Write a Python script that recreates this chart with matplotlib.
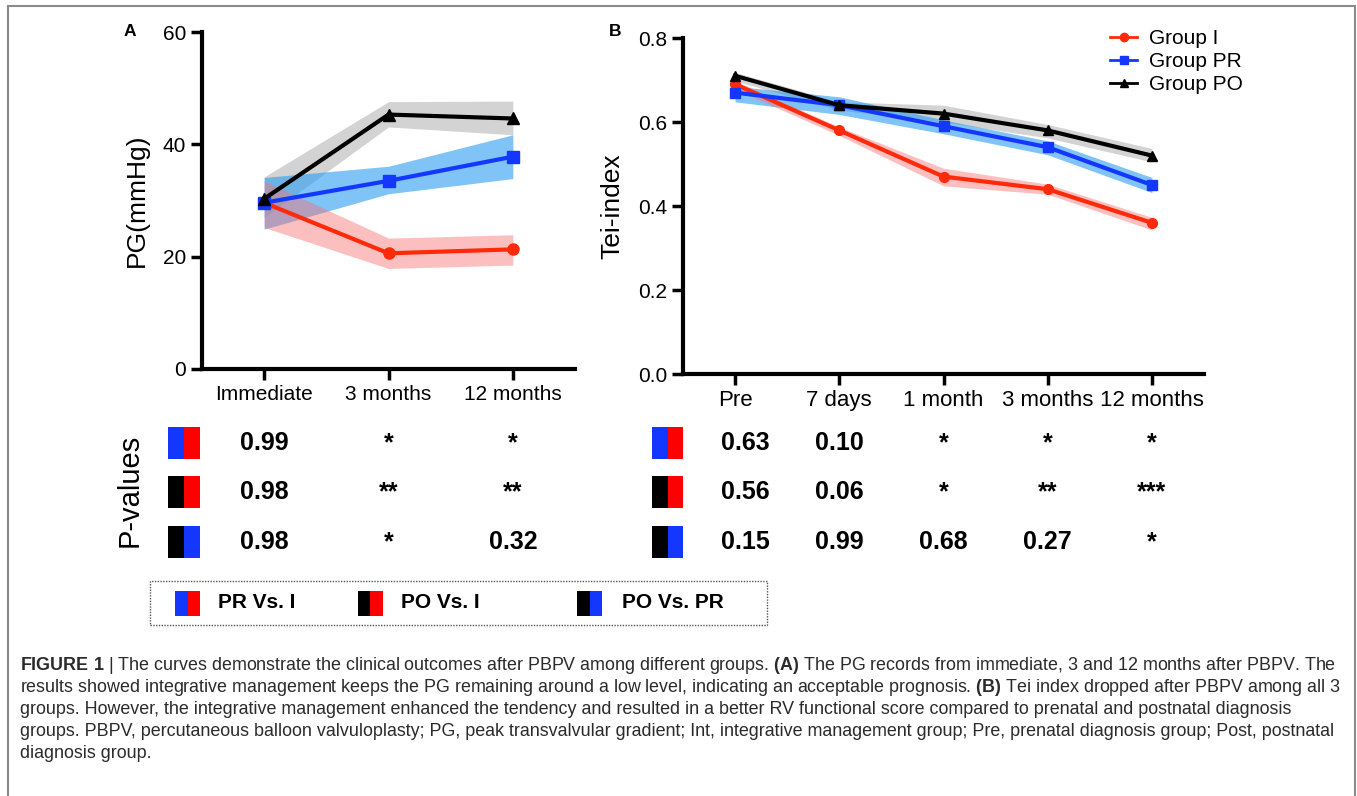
import matplotlib
matplotlib.use("Agg")
import matplotlib.pyplot as plt
import matplotlib.transforms as mtransforms
from matplotlib.patches import Rectangle
from matplotlib.lines import Line2D

plt.rcParams["font.family"] = ["Liberation Sans", "DejaVu Sans"]
plt.rcParams["mathtext.fontset"] = "custom"
plt.rcParams["mathtext.rm"] = "Liberation Sans"
plt.rcParams["mathtext.bf"] = "Liberation Sans:bold"

### données

# panel A : PG (mmHg)
pg_times = ["Immediate", "3 months", "12 months"]
pg_int = [29.6, 20.6, 21.3]
pg_int_lo = [25.2, 17.9, 18.5]
pg_int_hi = [33.5, 23.3, 23.9]
pg_pre = [29.6, 33.5, 37.8]
pg_pre_lo = [24.9, 31.2, 33.9]
pg_pre_hi = [34.1, 36.1, 41.7]
pg_post = [30.3, 45.3, 44.6]
pg_post_lo = [27.0, 43.1, 41.7]
pg_post_hi = [34.2, 47.6, 47.7]

# panel B : Tei-index
tei_times = ["Pre", "7 days", "1 month", "3 months", "12 months"]
tei_int = [0.69, 0.58, 0.47, 0.44, 0.36]
tei_int_lo = [0.678, 0.568, 0.448, 0.428, 0.343]
tei_int_hi = [0.698, 0.588, 0.490, 0.452, 0.373]
tei_pre = [0.67, 0.64, 0.59, 0.54, 0.45]
tei_pre_lo = [0.648, 0.618, 0.572, 0.522, 0.432]
tei_pre_hi = [0.685, 0.660, 0.605, 0.555, 0.468]
tei_post = [0.71, 0.64, 0.62, 0.58, 0.52]
tei_post_lo = [0.698, 0.628, 0.600, 0.562, 0.505]
tei_post_hi = [0.718, 0.648, 0.640, 0.594, 0.537]

group_names = ["Group I", "Group PR", "Group PO"]
comparisons = ["PR Vs. I", "PO Vs. I", "PO Vs. PR"]
pvals_a = [["0.99", "*", "*"],
           ["0.98", "**", "**"],
           ["0.98", "*", "0.32"]]
pvals_b = [["0.63", "0.10", "*", "*", "*"],
           ["0.56", "0.06", "*", "**", "***"],
           ["0.15", "0.99", "0.68", "0.27", "*"]]

caption = [
    r"$\mathbf{FIGURE\ 1}$ | The curves demonstrate the clinical outcomes after PBPV among different groups. $\mathbf{(A)}$ The PG records from immediate, 3 and 12 months after PBPV. The",
    r"results showed integrative management keeps the PG remaining around a low level, indicating an acceptable prognosis. $\mathbf{(B)}$ Tei index dropped after PBPV among all 3",
    "groups. However, the integrative management enhanced the tendency and resulted in a better RV functional score compared to prenatal and postnatal diagnosis",
    "groups. PBPV, percutaneous balloon valvuloplasty; PG, peak transvalvular gradient; Int, integrative management group; Pre, prenatal diagnosis group; Post, postnatal",
    "diagnosis group.",
]

### styles
RED = "#ff2a0a"
BLUE = "#1437ff"
BLACK = "#000000"
W, H = 1357, 796

fig = plt.figure(figsize=(W / 100, H / 100), dpi=100)


def fx(x):
    return x / W


def fy(y):
    return 1 - y / H


def style_axes(ax):
    for s in ["top", "right"]:
        ax.spines[s].set_visible(False)
    for s in ["left", "bottom"]:
        ax.spines[s].set_linewidth(3)
    ax.tick_params(width=2.5, length=8, direction="out")


def draw_panel(ax, x, series, ms):
    # bandes d'abord, puis les courbes (rouge, bleu, noir)
    for y, lo, hi, color, band, alpha, marker in series:
        ax.fill_between(x, lo, hi, color=band, alpha=alpha, linewidth=0)
    for y, lo, hi, color, band, alpha, marker in series[::-1]:
        ax.plot(x, y, color=color, lw=3, marker=marker, ms=ms)


### panel A
axA = fig.add_axes([fx(202), fy(369), fx(373), 337 / H])
xa = list(range(len(pg_times)))
draw_panel(axA, xa, [
    (pg_post, pg_post_lo, pg_post_hi, BLACK, "#a8a8a8", 0.5, "^"),
    (pg_pre, pg_pre_lo, pg_pre_hi, BLUE, "#2a9cf2", 0.6, "s"),
    (pg_int, pg_int_lo, pg_int_hi, RED, "#f87272", 0.45, "o"),
], 8)
axA.set_xlim(-0.5, 2.5)
axA.set_ylim(0, 60)
axA.set_yticks([0, 20, 40, 60])
axA.set_xticks(xa)
axA.set_xticklabels(pg_times, fontsize=15)
axA.tick_params(axis="y", labelsize=15)
axA.set_ylabel("PG(mmHg)", fontsize=19, labelpad=10)
style_axes(axA)

### panel B
axB = fig.add_axes([fx(683), fy(374), fx(521), 336 / H])
xb = list(range(len(tei_times)))
draw_panel(axB, xb, [
    (tei_post, tei_post_lo, tei_post_hi, BLACK, "#a8a8a8", 0.5, "^"),
    (tei_pre, tei_pre_lo, tei_pre_hi, BLUE, "#2a9cf2", 0.6, "s"),
    (tei_int, tei_int_lo, tei_int_hi, RED, "#f87272", 0.45, "o"),
], 7)
axB.set_xlim(-0.5, 4.5)
axB.set_ylim(0, 0.8)
axB.set_yticks([0, 0.2, 0.4, 0.6, 0.8])
axB.set_yticklabels([f"{v:.1f}" for v in [0, 0.2, 0.4, 0.6, 0.8]], fontsize=15)
axB.set_xticks(xb)
axB.set_xticklabels(tei_times, fontsize=16)
axB.set_ylabel("Tei-index", fontsize=19, labelpad=10)
style_axes(axB)

handles = [Line2D([], [], color=c, lw=2, marker=m, ms=6) for c, m in [(RED, "o"), (BLUE, "s"), (BLACK, "^")]]
axB.legend(handles, group_names, loc="upper left", bbox_to_anchor=(fx(1110), fy(29)),
           bbox_transform=fig.transFigure, frameon=False, fontsize=15,
           handlelength=1.3, handletextpad=0.55, labelspacing=0.2,
           borderpad=0, borderaxespad=0)

fig.text(fx(130), fy(32), "A", fontsize=12.5, weight="bold", ha="center", va="center")
fig.text(fx(615), fy(32), "B", fontsize=12.5, weight="bold", ha="center", va="center")

### tableau des p-values
swatch_colors = [(BLUE, "#ff0000"), (BLACK, "#ff0000"), (BLACK, BLUE)]
row_y = [443, 492, 542]


def swatch(x, y, w, h, colors):
    for k, c in enumerate(colors):
        fig.patches.append(Rectangle((fx(x + k * w / 2), fy(y + h / 2)), fx(w / 2), h / H,
                                     facecolor=c, edgecolor="none", transform=fig.transFigure))


fig.text(fx(130), fy(490), "P-values", rotation=90, fontsize=21, ha="center", va="center")
trA = mtransforms.blended_transform_factory(axA.transData, fig.transFigure)
trB = mtransforms.blended_transform_factory(axB.transData, fig.transFigure)
colsB = [0.1, 1.0, 2.0, 3.0, 4.0]
for i, yy in enumerate(row_y):
    swatch(168, yy, 32, 32, swatch_colors[i])
    swatch(652, yy, 31, 32, swatch_colors[i])
    for j, v in enumerate(pvals_a[i]):
        fig.text(xa[j], fy(yy), v, transform=trA, fontsize=18, weight="bold", ha="center", va="center")
    for j, v in enumerate(pvals_b[i]):
        fig.text(colsB[j], fy(yy), v, transform=trB, fontsize=18, weight="bold", ha="center", va="center")

# légende des comparaisons
fig.patches.append(Rectangle((fx(150), fy(625)), fx(617), 44 / H, facecolor="none",
                             edgecolor="#555555", lw=1, linestyle=(0, (1, 1)), transform=fig.transFigure))
for (sx, tx), lab, cols in zip([(175, 218), (358, 401), (577, 622)], comparisons, swatch_colors):
    swatch(sx, 603, 25, 25, cols)
    fig.text(fx(tx), fy(603), lab, fontsize=15, weight="bold", ha="left", va="center")

### légende de la figure
fig.patches.append(Rectangle((fx(8), fy(H + 10)), fx(1347), (H + 4) / H, facecolor="none",
                             edgecolor="#8a8a8a", lw=1.5, transform=fig.transFigure))
for k, line in enumerate(caption):
    fig.text(fx(20), fy(665 + 22 * k), line, fontsize=12.9, color="#2b2b2b", ha="left", va="center")

plt.savefig("out.png", dpi=100)
